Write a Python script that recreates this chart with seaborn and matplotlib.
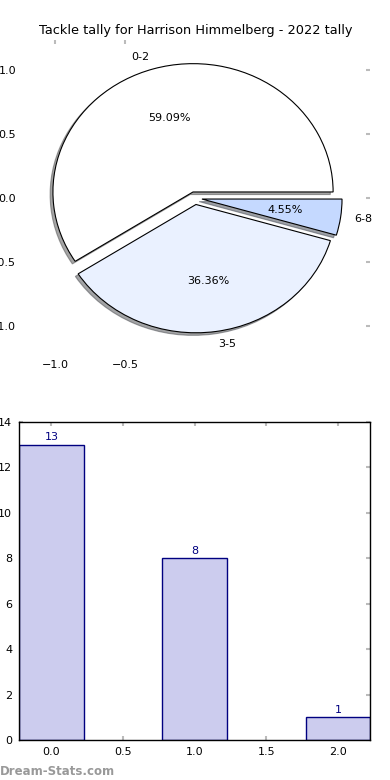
import matplotlib
matplotlib.use("Agg")
import matplotlib.pyplot as plt
import seaborn as sns
import pandas as pd

# data
tackle_bins = ["0-2", "3-5", "6-8"]
tackle_counts = [13, 8, 1]
bar_positions = [0, 1, 2]
pie_colors = ["#ffffff", "#eaf1ff", "#c5d9ff"]

sns.set_style("white")
plt.rcParams['font.family'] = ['DejaVu Sans']
plt.rcParams['text.color'] = 'black'
plt.rcParams['xtick.labelcolor'] = 'black'
plt.rcParams['ytick.labelcolor'] = 'black'

fig = plt.figure(figsize=(3.9, 7.8), dpi=100)

# pie on top
ax1 = fig.add_axes([0.056, 0.542, 0.893, 0.407])
ax1.pie(tackle_counts, labels=tackle_bins, colors=pie_colors, explode=[0.05] * 3,
        autopct='%1.2f%%', shadow={'ox': -0.0144, 'oy': -0.0144}, frame=True,
        wedgeprops={'edgecolor': 'black', 'linewidth': 0.8},
        textprops={'fontsize': 8, 'color': 'black'})
ax1.set_aspect('auto')
ax1.set_xlim(-1.236, 1.25)
ax1.set_ylim(-1.24, 1.234)
ax1.set_xticks([-1.0, -0.5])
ax1.set_yticks([1.0, 0.5, 0.0, -0.5, -1.0])
ax1.tick_params(axis='both', labelsize=8, color='#bbbbbb', length=3, width=1.5,
                direction='in', top=True, right=True, pad=4)
ax1.tick_params(axis='x', pad=2)
for s in ax1.spines.values():
    s.set_visible(False)
ax1.set_title("Tackle tally for Harrison Himmelberg - 2022 tally", fontsize=9.3, pad=4)

# bars below
ax2 = fig.add_axes([0.049, 0.051, 0.9, 0.408])
df = pd.DataFrame({'pos': bar_positions, 'count': tackle_counts})
sns.barplot(data=df, x='pos', y='count', native_scale=True, width=0.45,
            color='#ccccee', edgecolor='#000080', linewidth=1, saturation=1, ax=ax2)
for c in ax2.containers:
    ax2.bar_label(c, color='#000080', fontsize=8, padding=2)
ax2.set_xlim(-0.225, 2.225)
ax2.set_ylim(0, 14)
ax2.set_xlabel('')
ax2.set_ylabel('')
ax2.tick_params(axis='both', labelsize=8, color='#bbbbbb', length=3, width=1.5,
                direction='in', top=True, right=True, bottom=True, left=True, pad=5)
for s in ax2.spines.values():
    s.set_color('black')
    s.set_linewidth(1)

fig.text(0.0, 0.006, "Dream-Stats.com", color='#999999', fontsize=8.5, fontweight='bold')

plt.savefig('out.png', dpi=100)
plt.close()
